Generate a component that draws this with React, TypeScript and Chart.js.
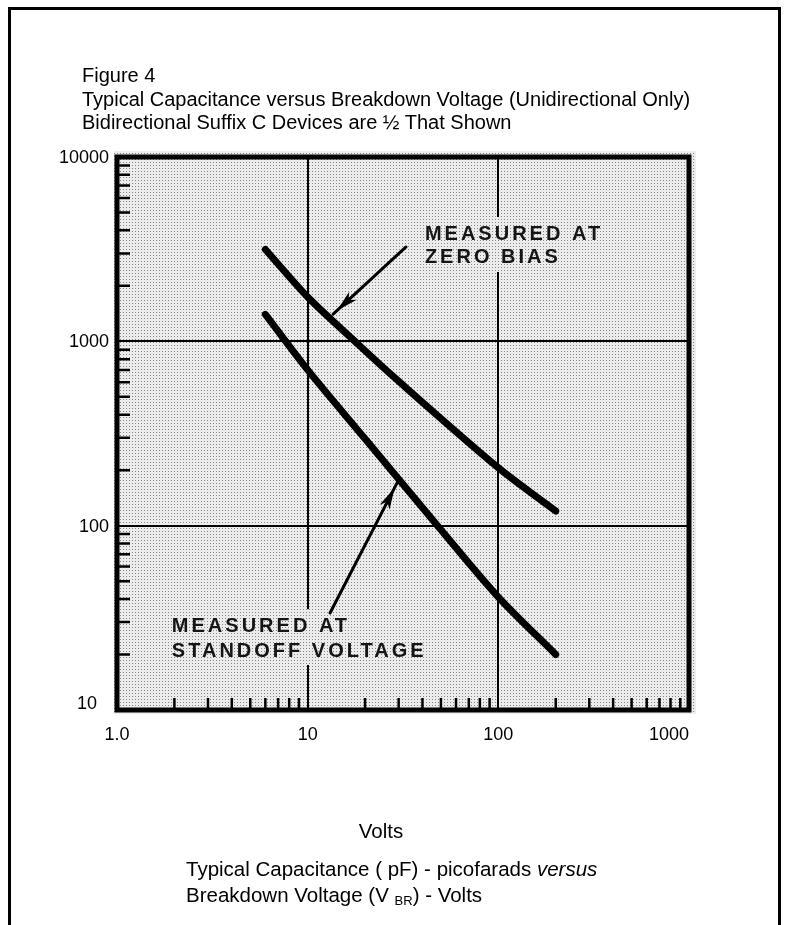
import React, { useEffect, useRef } from 'react';
import { Chart, registerables } from 'chart.js';

Chart.register(...registerables);

// ---- Data (Breakdown voltage in Volts vs capacitance in pF) ----
const zeroBiasVolts = [6, 10, 17.7, 28, 100, 200];
const zeroBiasPf = [3150, 1740, 1000, 647, 206, 120];
const standoffVolts = [6, 10, 20, 48, 100, 200];
const standoffPf = [1400, 700, 296, 100, 41, 20];

// ---- Axis ticks ----
const xMajorTicks = [1, 10, 100, 1000];
const xTickLabels = ['1.0', '10', '100', '1000'];
const yMajorTicks = [10, 100, 1000, 10000];
const yTickLabels = ['10', '100', '1000', '10000'];
const minorMultipliers = [2, 3, 4, 5, 6, 7, 8, 9];
const xGridValues = [10, 100];
const yGridValues = [100, 1000];

// ---- Annotations (anchors in data coordinates) ----
const zeroBiasLabel = ['MEASURED AT', 'ZERO BIAS'];
const zeroBiasLabelX = 41.2;
const zeroBiasLabelY = [3820, 2833];
const zeroBiasArrowFrom = [32.8, 3250];
const zeroBiasArrowTo = [13.6, 1405];

const standoffLabel = ['MEASURED AT', 'STANDOFF VOLTAGE'];
const standoffLabelX = 1.94;
const standoffLabelY = [28.5, 20.9];
const standoffArrowFrom = [13.1, 33.6];
const standoffArrowTo = [29.4, 170];

const FONT = "'Liberation Sans', Arial, Helvetica, sans-serif";

function minorValues(majors: number[]) {
  const out: number[] = [];
  for (let i = 0; i < majors.length - 1; i++) {
    for (const m of minorMultipliers) out.push(majors[i] * m);
  }
  return out;
}

let patternCache: CanvasPattern | null = null;
function getPattern(ctx: CanvasRenderingContext2D) {
  if (patternCache) return patternCache;
  const c = document.createElement('canvas');
  c.width = 3;
  c.height = 3;
  const p = c.getContext('2d')!;
  p.fillStyle = '#ececec';
  p.fillRect(0, 0, 3, 3);
  p.fillStyle = '#858585';
  p.fillRect(0, 0, 1, 1);
  patternCache = ctx.createPattern(c, 'repeat');
  return patternCache!;
}

function drawArrow(chart: any, from: number[], to: number[]) {
  const { ctx, scales } = chart;
  const x1 = scales.x.getPixelForValue(from[0]);
  const y1 = scales.y.getPixelForValue(from[1]);
  const x2 = scales.x.getPixelForValue(to[0]);
  const y2 = scales.y.getPixelForValue(to[1]);
  const ang = Math.atan2(y2 - y1, x2 - x1);
  ctx.save();
  ctx.strokeStyle = '#000';
  ctx.fillStyle = '#000';
  ctx.lineWidth = 3;
  ctx.lineCap = 'round';
  ctx.beginPath();
  ctx.moveTo(x1, y1);
  ctx.lineTo(x2, y2);
  ctx.stroke();
  // elongated head, set slightly back from the tip
  const back = 5;
  const len = 22;
  const half = 5.5;
  const tx = x2 - Math.cos(ang) * back;
  const ty = y2 - Math.sin(ang) * back;
  const bx = tx - Math.cos(ang) * len;
  const by = ty - Math.sin(ang) * len;
  ctx.beginPath();
  ctx.moveTo(tx, ty);
  ctx.lineTo(bx + Math.cos(ang + Math.PI / 2) * half, by + Math.sin(ang + Math.PI / 2) * half);
  ctx.lineTo(bx + Math.cos(ang) * 6, by + Math.sin(ang) * 6);
  ctx.lineTo(bx + Math.cos(ang - Math.PI / 2) * half, by + Math.sin(ang - Math.PI / 2) * half);
  ctx.closePath();
  ctx.fill();
  ctx.restore();
}

function drawLabel(chart: any, lines: string[], xVal: number, yVals: number[]) {
  const { ctx, scales } = chart;
  const x = scales.x.getPixelForValue(xVal);
  const ys = yVals.map((v) => scales.y.getPixelForValue(v));
  ctx.save();
  ctx.font = `bold 20px ${FONT}`;
  (ctx as any).letterSpacing = '3px';
  const w = Math.max(...lines.map((l) => ctx.measureText(l).width));
  // knock out the grid behind the text, keep the shaded background
  ctx.fillStyle = getPattern(ctx);
  ctx.fillRect(x - 5, ys[0] - 17, w + 8, ys[ys.length - 1] - ys[0] + 31);
  ctx.fillStyle = '#151515';
  ctx.textBaseline = 'middle';
  ctx.textAlign = 'left';
  lines.forEach((l, i) => ctx.fillText(l, x, ys[i]));
  ctx.restore();
}

const figurePlugin = {
  id: 'figure',
  beforeDraw(chart: any) {
    const { ctx, chartArea: a } = chart;
    ctx.save();
    ctx.fillStyle = getPattern(ctx);
    ctx.fillRect(a.left - 3, a.top - 6, a.right - a.left + 10, a.bottom - a.top + 10);
    ctx.restore();
  },
  afterDatasetsDraw(chart: any) {
    drawLabel(chart, zeroBiasLabel, zeroBiasLabelX, zeroBiasLabelY);
    drawLabel(chart, standoffLabel, standoffLabelX, standoffLabelY);
    drawArrow(chart, zeroBiasArrowFrom, zeroBiasArrowTo);
    drawArrow(chart, standoffArrowFrom, standoffArrowTo);
  },
  afterDraw(chart: any) {
    const { ctx, chartArea: a, scales } = chart;
    ctx.save();
    // minor ticks, pointing inward
    ctx.strokeStyle = '#000';
    ctx.lineWidth = 2.5;
    ctx.beginPath();
    for (const v of minorValues(xMajorTicks)) {
      const px = scales.x.getPixelForValue(v);
      ctx.moveTo(px, a.bottom);
      ctx.lineTo(px, a.bottom - 12);
    }
    for (const v of minorValues(yMajorTicks)) {
      const py = scales.y.getPixelForValue(v);
      ctx.moveTo(a.left, py);
      ctx.lineTo(a.left + 13, py);
    }
    ctx.stroke();
    // heavy frame
    ctx.lineWidth = 5;
    ctx.lineJoin = 'miter';
    ctx.strokeRect(a.left, a.top, a.right - a.left, a.bottom - a.top);
    // tick labels
    ctx.fillStyle = '#000';
    ctx.font = `18px ${FONT}`;
    ctx.textBaseline = 'middle';
    ctx.textAlign = 'center';
    xMajorTicks.forEach((v, i) => {
      const shift = i === xMajorTicks.length - 1 ? -20 : 0;
      ctx.fillText(xTickLabels[i], scales.x.getPixelForValue(v) + shift, a.bottom + 25);
    });
    ctx.textAlign = 'right';
    yMajorTicks.forEach((v, i) => {
      const first = i === 0;
      ctx.fillText(
        yTickLabels[i],
        a.left - (first ? 20 : 8),
        scales.y.getPixelForValue(v) + (first ? -6 : 1)
      );
    });
    ctx.restore();
  },
};

export default function App() {
  const ref = useRef<HTMLCanvasElement>(null);

  useEffect(() => {
    const canvas = ref.current;
    if (!canvas) return;
    const lineStyle = {
      borderColor: '#000',
      borderWidth: 7,
      pointRadius: 0,
      borderCapStyle: 'round',
      borderJoinStyle: 'round',
      tension: 0.3,
      fill: false,
    };
    const chart = new Chart(canvas, {
      type: 'line',
      data: {
        datasets: [
          {
            label: 'Measured at zero bias',
            data: zeroBiasVolts.map((x, i) => ({ x, y: zeroBiasPf[i] })),
            ...lineStyle,
          },
          {
            label: 'Measured at standoff voltage',
            data: standoffVolts.map((x, i) => ({ x, y: standoffPf[i] })),
            ...lineStyle,
          },
        ],
      },
      options: {
        responsive: false,
        animation: false,
        parsing: false as any,
        layout: { padding: { left: 0, top: 157, right: 98, bottom: 0 } },
        plugins: { legend: { display: false }, tooltip: { enabled: false }, title: { display: false } },
        scales: {
          x: {
            type: 'logarithmic',
            min: 1,
            max: 1000,
            afterBuildTicks: (s: any) => {
              s.ticks = [...xMajorTicks, ...minorValues(xMajorTicks)].sort((p, q) => p - q).map((value) => ({ value }));
            },
            afterFit: (s: any) => {
              s.height = 215;
            },
            ticks: { display: false },
            border: { display: false },
            grid: {
              drawTicks: false,
              lineWidth: 2,
              color: (c: any) => (c.tick && xGridValues.includes(c.tick.value) ? '#000' : 'rgba(0,0,0,0)'),
            },
          },
          y: {
            type: 'logarithmic',
            min: 10,
            max: 10000,
            afterBuildTicks: (s: any) => {
              s.ticks = [...yMajorTicks, ...minorValues(yMajorTicks)].sort((p, q) => p - q).map((value) => ({ value }));
            },
            afterFit: (s: any) => {
              s.width = 117;
            },
            ticks: { display: false },
            border: { display: false },
            grid: {
              drawTicks: false,
              lineWidth: 2,
              color: (c: any) => (c.tick && yGridValues.includes(c.tick.value) ? '#000' : 'rgba(0,0,0,0)'),
            },
          },
        },
      },
      plugins: [figurePlugin as any],
    } as any);
    return () => chart.destroy();
  }, []);

  return (
    <div
      style={{
        position: 'absolute',
        left: 0,
        top: 0,
        width: 787,
        height: 925,
        overflow: 'hidden',
        background: '#fff',
        fontFamily: FONT,
        color: '#000',
      }}
    >
      <div
        style={{
          position: 'absolute',
          left: 8,
          top: 7,
          width: 773,
          height: 1000,
          border: '3px solid #000',
          boxSizing: 'border-box',
        }}
      />
      <canvas
        ref={ref}
        width={787}
        height={925}
        style={{ position: 'absolute', left: 0, top: 0, width: 787, height: 925 }}
      />
      <div
        style={{
          position: 'absolute',
          left: 82,
          top: 64,
          fontSize: 20,
          lineHeight: '23.5px',
          whiteSpace: 'nowrap',
        }}
      >
        <div>Figure 4</div>
        <div>Typical Capacitance versus Breakdown Voltage (Unidirectional Only)</div>
        <div>Bidirectional Suffix C Devices are ½ That Shown</div>
      </div>
      <div
        style={{
          position: 'absolute',
          left: 300,
          width: 162,
          top: 819,
          textAlign: 'center',
          fontSize: 20.5,
          lineHeight: '24px',
        }}
      >
        Volts
      </div>
      <div
        style={{
          position: 'absolute',
          left: 186,
          top: 856,
          fontSize: 20.5,
          lineHeight: '26px',
          whiteSpace: 'nowrap',
        }}
      >
        <div>
          Typical Capacitance ( pF) - picofarads <i>versus</i>
        </div>
        <div>
          Breakdown Voltage (V{' '}
          <span style={{ fontSize: 13, position: 'relative', top: 3 }}>BR</span>) - Volts
        </div>
      </div>
    </div>
  );
}
